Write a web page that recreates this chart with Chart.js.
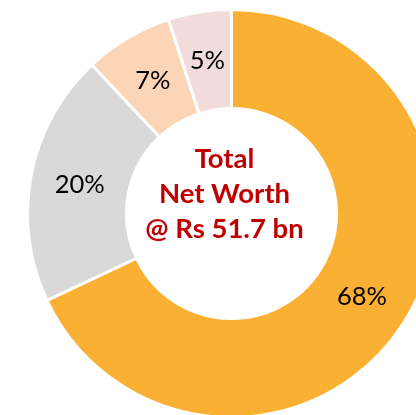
<!DOCTYPE html>
<html>
<head>
<meta charset="utf-8">
<script src="https://cdn.jsdelivr.net/npm/chart.js@4"></script>
<style>
html,body{margin:0;padding:0;background:#fff;overflow:hidden;width:416px;height:415px;}
#wrap{position:absolute;left:26px;top:8px;width:411px;height:411px;}
</style>
</head>
<body>
<div id="wrap"><canvas id="chart" width="411" height="411"></canvas></div>
<script>
var categories = ['A', 'B', 'C', 'D'];
var shares = [68, 20, 7, 5];
var labels = ['68%', '20%', '7%', '5%'];
var colors = ['#FAB033', '#D9D9D9', '#FBD5B5', '#F2DCDB'];
var centerLines = ['Total', 'Net Worth', '@ Rs 51.7 bn'];

var labelPlugin = {
  id: 'labelPlugin',
  afterDatasetsDraw: function(chart) {
    var ctx = chart.ctx;
    var meta = chart.getDatasetMeta(0);
    ctx.save();
    ctx.font = '25.5px Lato';
    ctx.fillStyle = '#000';
    ctx.textAlign = 'center';
    ctx.textBaseline = 'middle';
    meta.data.forEach(function(arc, i) {
      var p = arc.tooltipPosition();
      ctx.fillText(labels[i], p.x, p.y);
    });
    // center text
    var c = meta.data[0];
    ctx.font = 'bold 27.5px Lato';
    ctx.fillStyle = '#C00000';
    for (var i = 0; i < centerLines.length; i++) {
      ctx.fillText(centerLines[i], c.x - 7, c.y - 54 + i * 35);
    }
    ctx.restore();
  }
};

new Chart(document.getElementById('chart'), {
  type: 'doughnut',
  data: {
    labels: categories,
    datasets: [{
      data: shares,
      backgroundColor: colors,
      borderColor: '#fff',
      borderWidth: 3
    }]
  },
  options: {
    responsive: false,
    animation: false,
    cutout: '51.5%',
    plugins: {
      legend: { display: false },
      tooltip: { enabled: false }
    }
  },
  plugins: [labelPlugin]
});
</script>
</body>
</html>
